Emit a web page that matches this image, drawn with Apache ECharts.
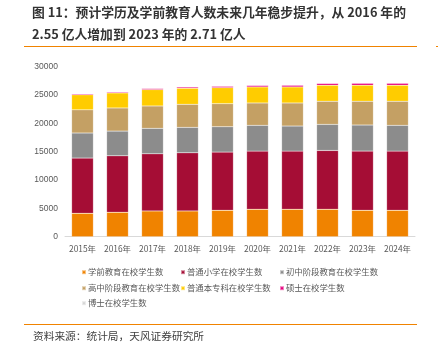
<!DOCTYPE html>
<html><head><meta charset="utf-8">
<script src="https://cdn.jsdelivr.net/npm/echarts@6/dist/echarts.min.js"></script>
<style>html,body{margin:0;padding:0;background:#fff;}#c{width:438px;height:348px;}</style>
</head><body><div id="c"></div>
<script>
const categories = ['2015年','2016年','2017年','2018年','2019年','2020年','2021年','2022年','2023年','2024年'];
const preschool = [4130, 4310, 4540, 4540, 4660, 4840, 4840, 4840, 4660, 4660];
const primary   = [9750, 9970, 10090, 10270, 10270, 10260, 10260, 10380, 10450, 10440];
const junior    = [4420, 4360, 4490, 4480, 4480, 4550, 4430, 4600, 4600, 4550];
const senior    = [4090, 4080, 3950, 4070, 4070, 3950, 4070, 4080, 4190, 4250];
const higher    = [2650, 2650, 2890, 2840, 2830, 2830, 2830, 2830, 2840, 2830];
const master    = [165, 165, 200, 220, 240, 270, 300, 320, 340, 350];
const doctor    = [32, 34, 36, 39, 42, 47, 51, 56, 60, 62];
const yTicks = [0, 5000, 10000, 15000, 20000, 25000, 30000];
const seriesNames = ['学前教育在校学生数','普通小学在校学生数','初中阶段教育在校学生数','高中阶段教育在校学生数','普通本专科在校学生数','硕士在校学生数','博士在校学生数'];
const seriesData = [preschool, primary, junior, senior, higher, master, doctor];
const colors = ['#F08300','#A50D35','#8C8C8C','#C4A064','#FFCC00','#E6007E','#D6D6D6'];

const chart = echarts.init(document.getElementById('c'), null, {renderer:'canvas'});
const legendPos = [[81,268],[180,268],[279,268],[81,284],[180,284],[279,284],[81,299]];
const legends = seriesNames.map((n,i)=>({
  data:[n], left: legendPos[i][0], top: legendPos[i][1], orient:'horizontal',
  itemWidth:4, itemHeight:4, itemGap:0, icon:'rect', padding:0,
  textStyle:{fontSize:8.4, color:'#595959', fontFamily:'Noto Sans CJK SC', padding:[0,0,0,-3]}
}));
chart.setOption({
  animation:false,
  color: colors,
  title:[
    {text:'图 11：预计学历及学前教育人数未来几年稳步提升，从 2016 年的\n2.55 亿人增加到 2023 年的 2.71 亿人', left:32, top:1, padding:0,
     textStyle:{fontSize:12.8, fontWeight:'bold', color:'#333', lineHeight:22, fontFamily:'Noto Sans CJK SC'}},
    {text:'资料来源：统计局，天风证券研究所', left:33, top:331, padding:0,
     textStyle:{fontSize:10.7, fontWeight:'normal', color:'#404040', fontFamily:'Noto Sans CJK SC'}}
  ],
  graphic:[
    {type:'line', shape:{x1:24,y1:46.5,x2:417,y2:46.5}, style:{stroke:'#F08300', lineWidth:1}},
    {type:'line', shape:{x1:24,y1:324.5,x2:417,y2:324.5}, style:{stroke:'#F08300', lineWidth:1}},
    {type:'rect', shape:{x:436,y:46,width:2,height:1}, style:{fill:'#F08300'}}
  ],
  legend: legends,
  grid:{left:65, right:23, top:66.7, height:170, containLabel:false},
  xAxis:{type:'category', data:categories,
    axisLine:{lineStyle:{color:'#D9D9D9'}}, axisTick:{show:false},
    axisLabel:{fontSize:8.4, color:'#595959', margin:8, interval:0, fontFamily:'Noto Sans CJK SC'}},
  yAxis:{type:'value', min:yTicks[0], max:yTicks[yTicks.length-1], interval:5000,
    axisLine:{show:false}, axisTick:{show:false}, splitLine:{show:false},
    axisLabel:{fontSize:8.5, color:'#595959', margin:7, fontFamily:'Liberation Sans', formatter:v=>String(v)}},
  series: seriesNames.map((n,i)=>({
    name:n, type:'bar', stack:'total', data:seriesData[i], barWidth:'62%',
    itemStyle:{color:colors[i], borderColor:'rgba(255,255,255,0.5)', borderWidth:0.4}
  }))
});
</script></body></html>
